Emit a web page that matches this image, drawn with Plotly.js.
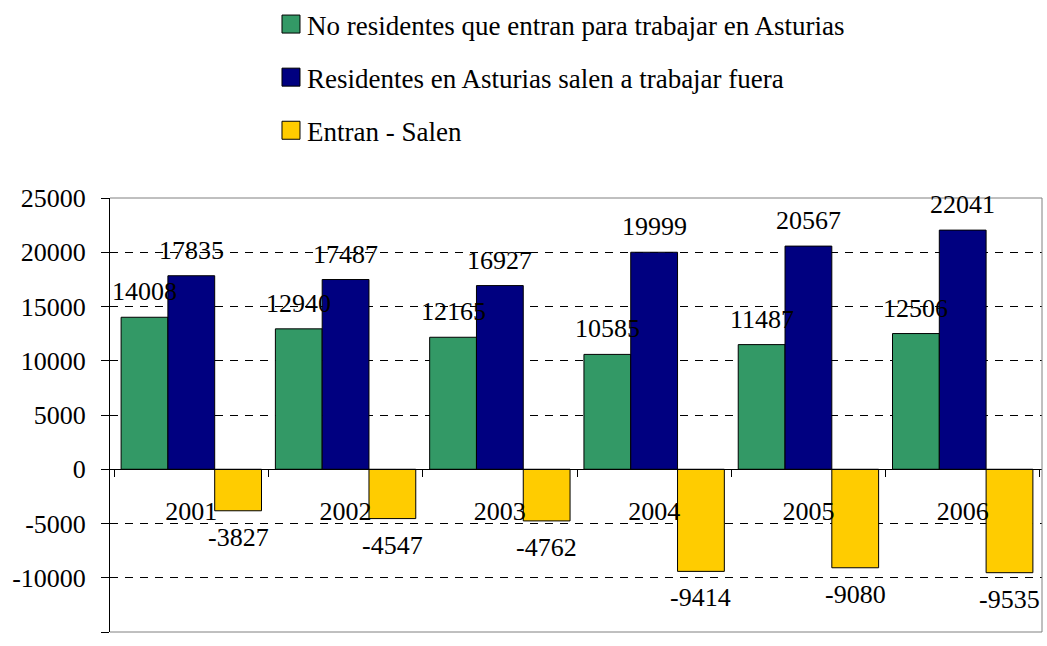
<!DOCTYPE html>
<html>
<head>
<meta charset="utf-8">
<script src="https://cdn.plot.ly/plotly-3.0.1.min.js"></script>
<style>html,body{margin:0;padding:0;background:#fff;}#chart{width:1047px;height:646px;}</style>
</head>
<body>
<div id="chart"></div>
<script>
var years = ['2001', '2002', '2003', '2004', '2005', '2006'];
var entran = [14008, 12940, 12165, 10585, 11487, 12506];
var salen = [17835, 17487, 16927, 19999, 20567, 22041];
var diferencia = [-3827, -4547, -4762, -9414, -9080, -9535];
var seriesNames = ['No residentes que entran para trabajar en Asturias',
                   'Residentes en Asturias salen a trabajar fuera',
                   'Entran - Salen'];
var yTicks = [-15000, -10000, -5000, 0, 5000, 10000, 15000, 20000, 25000];

var FONT = 'Liberation Serif, Times New Roman, serif';
var colors = ['#339966', '#000080', '#FFCC00'];
var bargap = 0.09;
var series = [entran, salen, diferencia];

var traces = series.map(function (vals, k) {
  return {
    type: 'bar', x: years, y: vals, name: seriesNames[k],
    legendgroup: 'g' + k,
    marker: {color: colors[k], line: {color: '#000', width: 1}},
    hoverinfo: 'none'
  };
});

var annotations = [];
var slot = (1 - bargap) / 3;
series.forEach(function (vals, k) {
  vals.forEach(function (v, i) {
    var pos = v >= 0;
    annotations.push({
      x: i + (k - 1) * slot, y: v, xref: 'x', yref: 'y',
      text: String(v), showarrow: false,
      yanchor: pos ? 'bottom' : 'top',
      yshift: pos ? 9 : -10,
      font: {family: FONT, size: 26, color: '#000'}
    });
  });
});

var layout = {
  width: 1047, height: 646,
  margin: {l: 110, r: 5, t: 198, b: 14, autoexpand: false},
  paper_bgcolor: '#fff', plot_bgcolor: '#fff',
  font: {family: FONT, size: 26, color: '#000'},
  barmode: 'group', bargap: bargap, bargroupgap: 0,
  showlegend: true,
  legend: {
    xref: 'container', yref: 'container', x: 0.255, y: 1.004, xanchor: 'left', yanchor: 'top',
    font: {family: FONT, size: 27, color: '#000'},
    tracegroupgap: 15, bgcolor: 'rgba(0,0,0,0)'
  },
  xaxis: {
    type: 'category', anchor: 'free', position: 0.375,
    showline: true, linecolor: '#000', linewidth: 1,
    ticks: 'outside', tickson: 'boundaries', ticklen: 7, tickcolor: '#000',
    ticklabelstandoff: 19, tickangle: 0,
    showgrid: false, zeroline: false,
    tickfont: {family: FONT, size: 26, color: '#000'}
  },
  yaxis: {
    range: [-15000, 25000], tickvals: yTicks, ticktext: yTicks.map(String),
    showline: true, linecolor: '#000', linewidth: 1,
    ticks: 'outside', ticklen: 8, tickcolor: '#000',
    ticklabelstandoff: 10,
    showgrid: true, gridcolor: '#000', gridwidth: 1, griddash: '8px,7px',
    zeroline: false,
    tickfont: {family: FONT, size: 26, color: '#000'}
  },
  shapes: [{
    type: 'path', xref: 'paper', yref: 'paper', layer: 'above',
    path: 'M0,1 L1,1 L1,0 L0,0',
    line: {color: '#808080', width: 1}
  }],
  annotations: annotations
};

Plotly.newPlot('chart', traces, layout, {displayModeBar: false, staticPlot: true}).then(function (gd) {
  var pts = gd.querySelectorAll('.legend .legendpoints path');
  pts.forEach(function (p) { p.setAttribute('d', 'M13,9H-5V-9H13Z'); });
});
</script>
</body>
</html>
